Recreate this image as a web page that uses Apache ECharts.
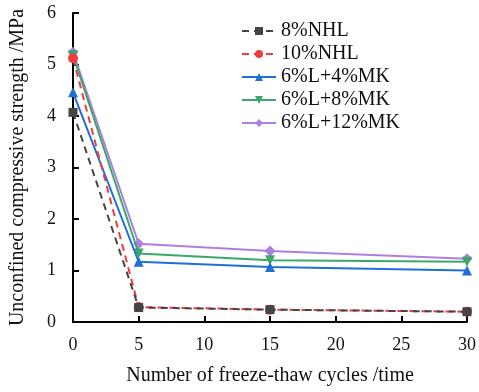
<!DOCTYPE html>
<html>
<head>
<meta charset="utf-8">
<script src="https://cdn.jsdelivr.net/npm/echarts@6/dist/echarts.min.js"></script>
<style>html,body{margin:0;padding:0;background:#fff}#c{width:479px;height:392px}</style>
</head>
<body>
<div id="c"></div>
<script>
var cycles = [0, 5, 15, 30];
var seriesNames = ['8%NHL', '10%NHL', '6%L+4%MK', '6%L+8%MK', '6%L+12%MK'];
var nhl8 = [4.07, 0.28, 0.24, 0.20];
var nhl10 = [5.12, 0.29, 0.24, 0.20];
var l4mk = [4.46, 1.17, 1.07, 1.00];
var l8mk = [5.18, 1.33, 1.20, 1.17];
var l12mk = [5.24, 1.52, 1.38, 1.23];
var yTicks = [0, 1, 2, 3, 4, 5, 6];
var xTicks = [0, 5, 10, 15, 20, 25, 30];

function pairs(vals) { return cycles.map(function (c, i) { return [c, vals[i]]; }); }
var F = '"Liberation Serif", "Times New Roman", serif';
var styles = [
  { color: '#454545', symbol: 'rect', dash: 'dashed', size: 9 },
  { color: '#ee3d3d', symbol: 'circle', dash: 'dashed', size: 10 },
  { color: '#1f6fd8', symbol: 'triangle', dash: 'solid', size: 10 },
  { color: '#3aa86a', symbol: 'path://M0,0 L10,0 L5,10 Z', dash: 'solid', size: 10 },
  { color: '#b07ee0', symbol: 'diamond', dash: 'solid', size: 11 }
];
var all = [nhl8, nhl10, l4mk, l8mk, l12mk];
var series = all.map(function (v, i) {
  var s = styles[i];
  return {
    name: seriesNames[i], type: 'line', data: pairs(v),
    symbol: s.symbol, symbolSize: s.size,
    itemStyle: { color: s.color },
    lineStyle: { color: s.color, width: 2, type: s.dash === 'dashed' ? [7, 5] : 'solid' },
    z: 10 - i
  };
});
var chart = echarts.init(document.getElementById('c'));
chart.setOption({
  animation: false,
  backgroundColor: '#fff',
  grid: { left: 73, right: 12, top: 13, bottom: 70 },
  legend: {
    orient: 'vertical', left: 236, top: 16, itemWidth: 34, itemHeight: 10, itemGap: 3,
    textStyle: { fontFamily: F, fontSize: 20, color: '#111' },
    data: seriesNames
  },
  xAxis: {
    type: 'value', min: xTicks[0], max: xTicks[xTicks.length - 1], interval: 5,
    name: 'Number of freeze-thaw cycles /time', nameLocation: 'middle', nameGap: 44,
    nameTextStyle: { fontFamily: F, fontSize: 20, color: '#111' },
    axisLine: { lineStyle: { color: '#000', width: 2 } },
    axisTick: { inside: true, length: 6, lineStyle: { color: '#000', width: 2 } },
    axisLabel: { fontFamily: F, fontSize: 18, color: '#111', margin: 14 },
    splitLine: { show: false }
  },
  yAxis: {
    type: 'value', min: yTicks[0], max: yTicks[yTicks.length - 1], interval: 1,
    name: 'Unconfined compressive strength /MPa', nameLocation: 'middle', nameGap: 45,
    nameTextStyle: { fontFamily: F, fontSize: 20, color: '#111' },
    axisLine: { show: true, lineStyle: { color: '#000', width: 2 } },
    axisTick: { show: true, inside: true, length: 6, lineStyle: { color: '#000', width: 2 } },
    axisLabel: { fontFamily: F, fontSize: 18, color: '#111', margin: 17 },
    splitLine: { show: false }
  },
  series: series
});
</script>
</body>
</html>
